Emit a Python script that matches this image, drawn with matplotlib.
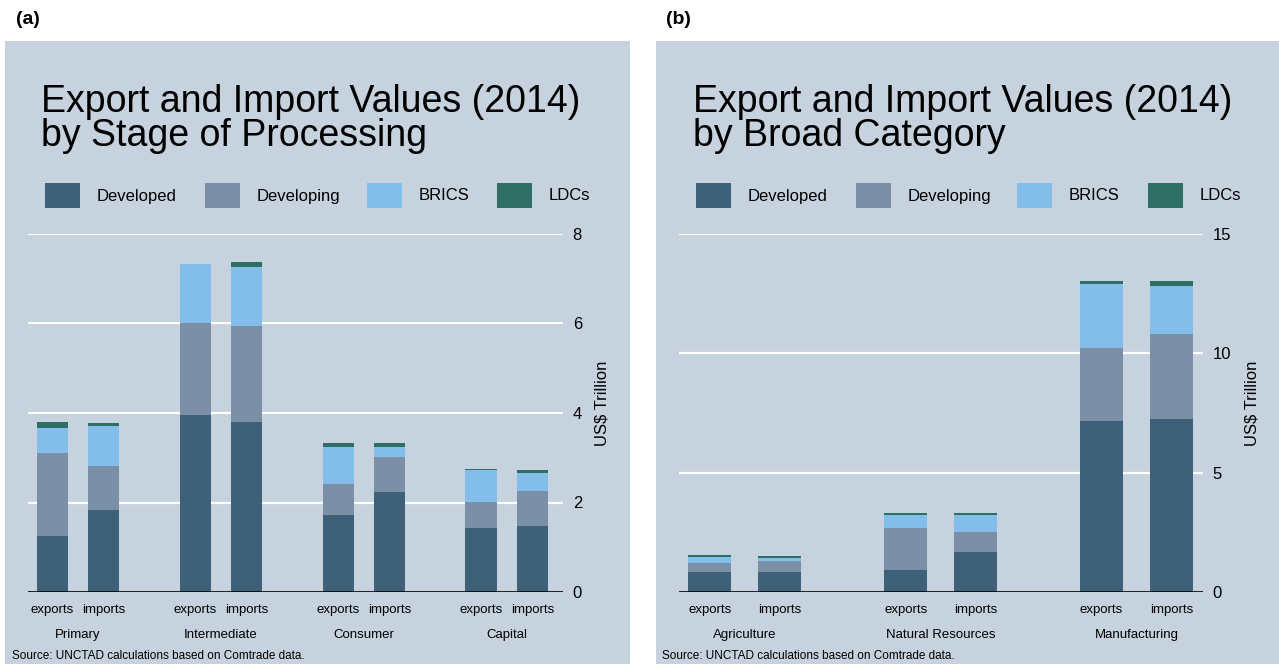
import matplotlib
matplotlib.use("Agg")
import matplotlib.pyplot as plt
from matplotlib.patches import Rectangle
import numpy as np

plt.rcParams['font.family'] = ['Liberation Sans', 'DejaVu Sans']

series = ["Developed", "Developing", "BRICS", "LDCs"]
colors = ["#3E6179", "#7B90A7", "#82BEE9", "#2D6E65"]
bar_labels = ["exports", "imports"]

# Panel (a): stage of processing (US$ trillion)
cats_a = ["Primary", "Intermediate", "Consumer", "Capital"]
developed_a = [1.25, 1.83, 3.96, 3.80, 1.73, 2.23, 1.44, 1.48]
developing_a = [1.86, 0.99, 2.04, 2.15, 0.68, 0.79, 0.57, 0.78]
brics_a = [0.56, 0.90, 1.32, 1.32, 0.84, 0.21, 0.72, 0.40]
ldcs_a = [0.14, 0.06, 0.02, 0.10, 0.07, 0.09, 0.02, 0.07]
yticks_a = [0, 2, 4, 6, 8]

# Panel (b): broad category
cats_b = ["Agriculture", "Natural Resources", "Manufacturing"]
developed_b = [0.85, 0.85, 0.93, 1.68, 7.18, 7.25]
developing_b = [0.38, 0.44, 1.76, 0.85, 3.04, 3.57]
brics_b = [0.25, 0.13, 0.52, 0.68, 2.68, 2.01]
ldcs_b = [0.07, 0.09, 0.11, 0.11, 0.13, 0.20]
yticks_b = [0, 5, 10, 15]

BG = "#C6D2DE"
W, H = 1279, 664
fig = plt.figure(figsize=(W / 100, H / 100), dpi=100)
fig.patch.set_facecolor("white")

fig.add_artist(Rectangle((5 / W, 0), (630 - 5) / W, (H - 41) / H,
                         transform=fig.transFigure, facecolor=BG, edgecolor="none", zorder=0))
fig.add_artist(Rectangle((656 / W, 0), (W - 656) / W, (H - 41) / H,
                         transform=fig.transFigure, facecolor=BG, edgecolor="none", zorder=0))


def panel(ax_px, cats, stacks, yticks, ymax, letter, letter_x, title, title_x,
          legend_xs, src_x, xlim, ylabel_x):
    x0, x1 = ax_px
    ax = fig.add_axes([x0 / W, (H - 592) / H, (x1 - x0) / W, (592 - 234) / H])
    ax.set_facecolor("none")
    n = len(cats)
    pos = []
    for i in range(n):
        pos += [i * 2.8, i * 2.8 + 1]
    pos = np.array(pos)
    bottom = np.zeros(len(pos))
    for vals, c in zip(stacks, colors):
        ax.bar(pos, vals, width=0.62, bottom=bottom, color=c, edgecolor="none", zorder=3)
        bottom += np.array(vals)
    ax.set_xlim(*xlim)
    ax.set_ylim(0, ymax)
    ax.set_yticks(yticks)
    ax.yaxis.tick_right()
    ax.tick_params(axis="y", length=0, labelsize=12, pad=7)
    ax.set_yticklabels([str(t) for t in yticks])
    for t in yticks[1:]:
        ax.axhline(t, color="white", lw=1.6, zorder=1)
    ax.axhline(0, color="black", lw=1.2, zorder=4)
    for s in ax.spines.values():
        s.set_visible(False)
    ax.set_xticks(pos)
    ax.set_xticklabels(bar_labels * n, fontsize=9.5)
    ax.tick_params(axis="x", length=0, pad=9)
    for i, c in enumerate(cats):
        ax.text(i * 2.8 + 0.5, -0.12, c, transform=ax.get_xaxis_transform(),
                ha="center", va="center", fontsize=9.5)
    ax.yaxis.set_label_position("right")
    ax.set_ylabel("US$ Trillion", fontsize=12)
    ax.yaxis.set_label_coords((ylabel_x - x0) / (x1 - x0), (592 - 403) / 358)
    fig.text(letter_x / W, 1 - 20 / H, letter, fontsize=14, fontweight="bold",
             ha="left", va="center")
    fig.text(title_x / W, 1 - 119 / H, title, fontsize=27, ha="left", va="center",
             linespacing=0.93)
    for lx, name, c in zip(legend_xs, series, colors):
        fig.add_artist(Rectangle((lx / W, 1 - 208 / H), 35 / W, 25 / H,
                                 transform=fig.transFigure, facecolor=c, edgecolor="none"))
        fig.text((lx + 52) / W, 1 - 196 / H, name, fontsize=12, ha="left", va="center")
    fig.text(src_x / W, 1 - 656 / H, "Source: UNCTAD calculations based on Comtrade data.",
             fontsize=8.5, ha="left", va="center")
    return ax


panel((28, 563), cats_a, [developed_a, developing_a, brics_a, ldcs_a], yticks_a, 8,
      "(a)", 16, "Export and Import Values (2014)\nby Stage of Processing", 41,
      [45, 205, 367, 497], 12, (-0.48, 10.0), 595)
panel((679, 1203), cats_b, [developed_b, developing_b, brics_b, ldcs_b], yticks_b, 15,
      "(b)", 666, "Export and Import Values (2014)\nby Broad Category", 693,
      [696, 856, 1017, 1148], 662, (-0.44, 7.05), 1245)

fig.savefig("out.png", dpi=100, facecolor="white")
